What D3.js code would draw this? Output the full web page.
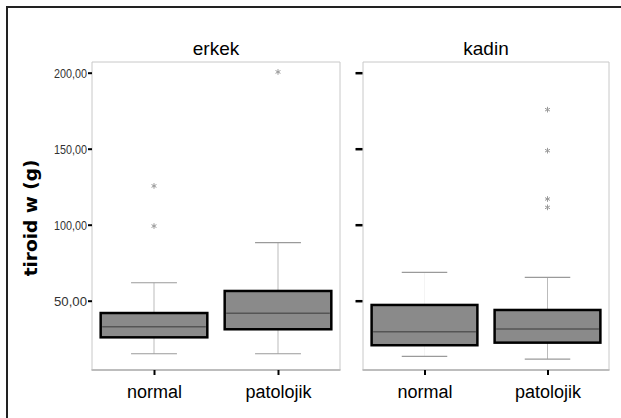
<!DOCTYPE html>
<html>
<head>
<meta charset="utf-8">
<script src="https://cdn.jsdelivr.net/npm/d3@7"></script>
<style>
  body { margin: 0; background: #fff; }
  svg { display: block; font-family: "Liberation Sans", Arial, sans-serif; }
</style>
</head>
<body>
<div id="chart"></div>
<script>
// panels and categories
var groups = ["erkek", "kadin"];
var categories = ["normal", "patolojik"];

// box stats, order: erkek-normal, erkek-patolojik, kadin-normal, kadin-patolojik
var whiskerLow  = [15.1, 15.1, 13.4, 11.6];
var q1          = [25.9, 31.2, 20.7, 22.4];
var medians     = [32.9, 41.7, 29.6, 31.4];
var q3          = [41.9, 56.4, 47.2, 43.9];
var whiskerHigh = [61.8, 88.2, 68.7, 65.4];

// extreme values (asterisks)
var outliers = [
    [125.5, 99.1],
    [200.5],
    [],
    [175.7, 148.7, 116.9, 111.4]
];

var yTicks = [50, 100, 150, 200];

var width = 621, height = 418;

var svg = d3.select("#chart").append("svg")
    .attr("width", width)
    .attr("height", height);

// outer frame (only left and top visible)
svg.append("path")
    .attr("d", "M7,420 V7 H625")
    .attr("fill", "none")
    .attr("stroke", "#222")
    .attr("stroke-width", 2);

var y = d3.scaleLinear().domain([0, 200]).range([376.7, 72.7]);
var panelTop = 62, panelBottom = 370;

var panels = [
    { name: groups[0], x0: 92, x1: 340 },
    { name: groups[1], x0: 363, x1: 609 }
];

panels.forEach(function(p, pi) {
    var g = svg.append("g");

    var x = d3.scalePoint()
        .domain(categories)
        .range([p.x0, p.x1])
        .padding(0.5);
    var step = x.step();
    var boxW = step * 0.86;
    var capW = step * 0.37;

    // panel frame
    g.append("path")
        .attr("d", "M" + p.x0 + "," + panelBottom + " V" + panelTop + " H" + p.x1 + " V" + panelBottom)
        .attr("fill", "none")
        .attr("stroke", "#c8c8c8")
        .attr("stroke-width", 1);
    g.append("line")
        .attr("x1", p.x0 - 0.5).attr("x2", p.x1 + 0.5)
        .attr("y1", panelBottom).attr("y2", panelBottom)
        .attr("stroke", "#bdbdbd")
        .attr("stroke-width", 2);

    // title
    g.append("text")
        .attr("x", (p.x0 + p.x1) / 2)
        .attr("y", 55)
        .attr("text-anchor", "middle")
        .attr("font-size", 19)
        .attr("fill", "#000")
        .text(p.name);

    // y axis ticks
    if (pi === 0) {
        var yAxis = d3.axisLeft(y).tickValues(yTicks).tickSize(4).tickPadding(1)
            .tickFormat(function(d) { return d3.format(".2f")(d).replace(".", ","); });
        var ay = g.append("g")
            .attr("transform", "translate(" + p.x0 + ",0)")
            .call(yAxis);
        ay.select(".domain").remove();
        ay.selectAll(".tick line").attr("stroke", "#000").attr("stroke-width", 2);
        ay.selectAll(".tick text")
            .attr("font-family", "Liberation Sans, Arial, sans-serif")
            .attr("font-size", 13.5)
            .attr("fill", "#333")
            .attr("textLength", 33)
            .attr("lengthAdjust", "spacingAndGlyphs");
    } else {
        var yAxis2 = d3.axisLeft(y).tickValues(yTicks).tickSize(7).tickFormat("");
        var ay2 = g.append("g")
            .attr("transform", "translate(" + (p.x0 - 0.5) + ",0)")
            .call(yAxis2);
        ay2.select(".domain").remove();
        ay2.selectAll(".tick line").attr("stroke", "#000").attr("stroke-width", 2.5);
    }

    // x axis
    var xAxis = d3.axisBottom(x).tickSize(5).tickPadding(10);
    var ax = g.append("g")
        .attr("transform", "translate(0," + panelBottom + ")")
        .call(xAxis);
    ax.select(".domain").remove();
    ax.selectAll(".tick line").attr("stroke", "#000").attr("stroke-width", 2);
    ax.selectAll(".tick text")
        .attr("font-family", "Liberation Sans, Arial, sans-serif")
        .attr("font-size", 18)
        .attr("fill", "#000");

    categories.forEach(function(c, ci) {
        var i = pi * 2 + ci;
        var cx = x(c);

        // whisker line
        g.append("line")
            .attr("x1", cx).attr("x2", cx)
            .attr("y1", y(whiskerHigh[i])).attr("y2", y(whiskerLow[i]))
            .attr("stroke", i === 2 ? "#f4f4f4" : "#bbb")
            .attr("stroke-width", 1);
        // caps
        [whiskerHigh[i], whiskerLow[i]].forEach(function(v) {
            g.append("line")
                .attr("x1", cx - capW / 2).attr("x2", cx + capW / 2)
                .attr("y1", y(v)).attr("y2", y(v))
                .attr("stroke", "#9a9a9a")
                .attr("stroke-width", 1.2);
        });
        // box
        g.append("rect")
            .attr("x", cx - boxW / 2)
            .attr("y", y(q3[i]))
            .attr("width", boxW)
            .attr("height", y(q1[i]) - y(q3[i]))
            .attr("fill", "#8a8a8a")
            .attr("stroke", "#000")
            .attr("stroke-width", 2.5);
        // median
        g.append("line")
            .attr("x1", cx - boxW / 2 + 1.5).attr("x2", cx + boxW / 2 - 1.5)
            .attr("y1", y(medians[i])).attr("y2", y(medians[i]))
            .attr("stroke", "#555")
            .attr("stroke-width", 1.5);
        // outliers
        g.selectAll(null)
            .data(outliers[i])
            .enter().append("path")
            .attr("d", d3.symbol(d3.symbolAsterisk, 22))
            .attr("transform", function(d) { return "translate(" + cx + "," + y(d) + ")"; })
            .attr("fill", "none")
            .attr("stroke", "#9a9a9a")
            .attr("stroke-width", 1);
    });
});

// y axis title
svg.append("text")
    .attr("transform", "translate(37,218) rotate(-90)")
    .attr("text-anchor", "middle")
    .attr("font-family", "DejaVu Sans, Verdana, sans-serif")
    .attr("font-weight", "bold")
    .attr("font-size", 18.5)
    .attr("fill", "#000")
    .text("tiroid w (g)");
</script>
</body>
</html>
